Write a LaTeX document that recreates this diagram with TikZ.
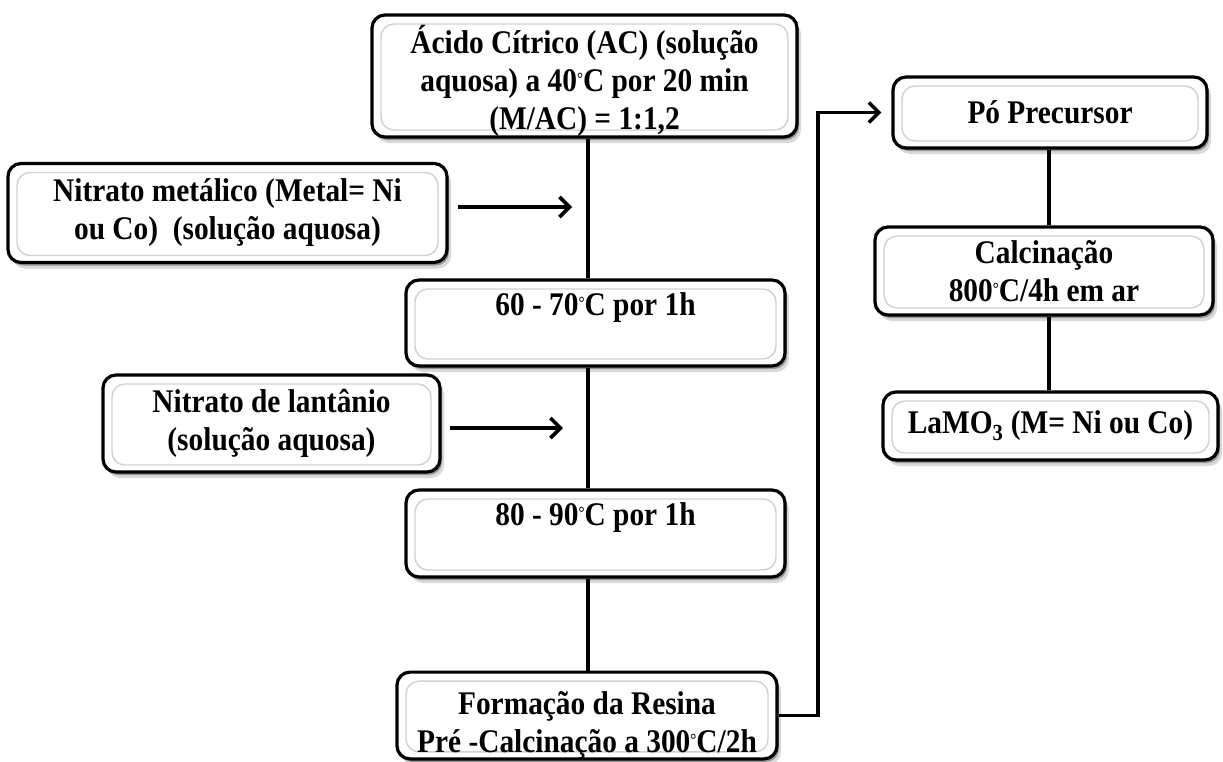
\documentclass[tikz,border=0pt]{standalone}
\usepackage{fontspec}
\setmainfont{Liberation Serif}[FakeStretch=0.89]
\usetikzlibrary{arrows.meta}
\newcommand\dg{\raisebox{7pt}{\fontsize{17}{17}\selectfont °}}
\newcommand\tp[1]{\rule{0pt}{#1}}
\begin{document}
\begin{tikzpicture}[x=1pt,y=-1pt,
  box/.style={draw=black, line width=3.2pt, rounded corners=13pt, fill=white,
    align=center, inner sep=0pt,
    font=\bfseries\fontsize{33}{38}\selectfont,
    preaction={fill=black, opacity=.15, transform canvas={shift={(4pt,-6pt)}}},
    preaction={fill=black, opacity=.30, transform canvas={shift={(2pt,-3pt)}}},
    path picture={\draw[black!18, line width=1.4pt]
      ([shift={(9pt,-9pt)}]path picture bounding box.north west) rectangle
      ([shift={(-9pt,7pt)}]path picture bounding box.south east);}},
  conn/.style={line width=3.6pt},
  arr/.style={line width=3.6pt, -{Straight Barb[length=10pt,width=20pt,line width=3.6pt]}}]
\fill[white] (0,0) rectangle (1223,761);
\useasboundingbox (0,0) rectangle (1223,761);

\node[box, minimum width=425pt, minimum height=122pt] (A) at (584.5,76)
  {\tp{38pt}Ácido Cítrico (AC) (solução\\aquosa) a 40\dg C por 20 min\\(M/AC) = 1:1,2};
\node[box, minimum width=439pt, minimum height=99pt] (M1) at (227.5,213)
  {Nitrato metálico (Metal= Ni\\ou Co)\ \ (solução aquosa)};
\node[box, minimum width=379pt, minimum height=86pt] (B) at (595.5,323)
  {60 - 70\dg C por 1h\\\mbox{}};
\node[box, minimum width=337pt, minimum height=97pt] (L) at (271.5,423.5)
  {Nitrato de lantânio\\(solução aquosa)};
\node[box, minimum width=379pt, minimum height=87pt] (C) at (595.5,533.5)
  {80 - 90\dg C por 1h\\\mbox{}};
\node[box, minimum width=380pt, minimum height=85pt] (F) at (587,715.5)
  {\tp{42pt}Formação da Resina\\Pré -Calcinação a 300\dg C/2h};
\node[box, minimum width=314pt, minimum height=71pt] (P) at (1050,112.5)
  {Pó Precursor};
\node[box, minimum width=338pt, minimum height=88pt] (K) at (1044,271)
  {Calcinação\\800\dg C/4h em ar};
\node[box, minimum width=335pt, minimum height=68pt] (R) at (1050.5,426)
  {LaMO\textsubscript{3} (M= Ni ou Co)};

\coordinate (t) at (588,0);
\coordinate (k) at (1049,0);
\coordinate (rc) at (818,0);
\coordinate (a1) at (572,207);
\coordinate (a2) at (563,428);

\draw[conn] (A.south -| t) -- (B.north -| t);
\draw[conn] (B.south -| t) -- (C.north -| t);
\draw[conn] (C.south -| t) -- (F.north -| t);
\draw[arr, shorten <=9pt] (M1.east |- a1) -- (a1);
\draw[arr, shorten <=8pt] (L.east |- a2) -- (a2);
\draw[arr, shorten >=10pt] (F.east) -| (rc |- P.west) -- (P.west);
\draw[conn] (P.south -| k) -- (K.north -| k);
\draw[conn] (K.south -| k) -- (R.north -| k);
\end{tikzpicture}
\end{document}
